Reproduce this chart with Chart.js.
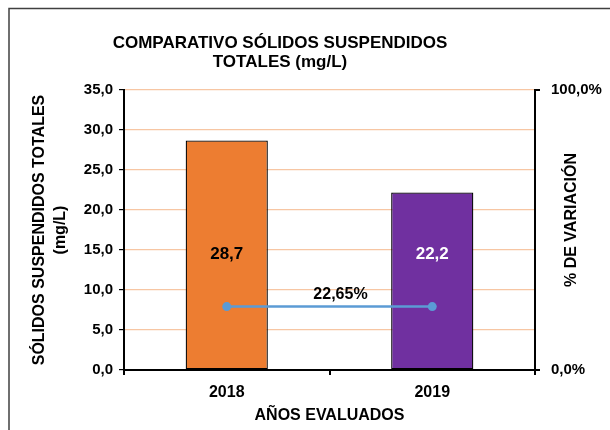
<!DOCTYPE html>
<html>
<head>
<meta charset="utf-8">
<script src="https://cdn.jsdelivr.net/npm/chart.js@4.4.1/dist/chart.umd.min.js"></script>
<style>
    body { margin: 0; background: #fff; }
    #wrap { width: 610px; height: 430px; }
</style>
</head>
<body>
<div id="wrap"><canvas id="chart"></canvas></div>
<script>
const YEARS = ['2018', '2019'];
const SST_VALUES = [28.7, 22.2];
const VARIATION = [22.65, 22.65];
const VARIATION_LABEL = '22,65%';
const TITLE_LINES = ['COMPARATIVO SÓLIDOS SUSPENDIDOS', 'TOTALES (mg/L)'];
const RIGHT_TITLE = '% DE VARIACIÓN';

const BAR_COLORS = ['#ed7d31', '#7030a0'];
const BAR_LABEL_COLORS = ['#000000', '#ffffff'];
const FONT = "'Liberation Sans', Arial, sans-serif";

function comma(v, digits) {
    return Number(v).toFixed(digits).replace('.', ',');
}

const decorations = {
    id: 'decorations',
    afterDraw(chart) {
        const ctx = chart.ctx;
        const y = chart.scales.y;
        const y2 = chart.scales.y2;
        ctx.save();

        // outer frame (only top and left edges visible in the crop)
        ctx.lineWidth = 1.5;
        ctx.strokeStyle = '#404040';
        ctx.beginPath();
        ctx.moveTo(9, 440);
        ctx.lineTo(9, 8.5);
        ctx.lineTo(620, 8.5);
        ctx.stroke();

        ctx.fillStyle = '#000';
        ctx.textAlign = 'center';
        ctx.textBaseline = 'middle';
        ctx.font = `bold 17px ${FONT}`;
        TITLE_LINES.forEach((line, i) => ctx.fillText(line, 280, 43 + i * 19.5));

        // right axis title, reading bottom to top
        ctx.save();
        ctx.translate(572, 220);
        ctx.rotate(-Math.PI / 2);
        ctx.font = `bold 16px ${FONT}`;
        ctx.fillText(RIGHT_TITLE, 0, 0);
        ctx.restore();

        // bar value labels
        ctx.font = `bold 17px ${FONT}`;
        const bars = chart.getDatasetMeta(0).data;
        bars.forEach((bar, i) => {
            ctx.fillStyle = BAR_LABEL_COLORS[i];
            ctx.fillText(comma(SST_VALUES[i], 1), bar.x, y.getPixelForValue(14.5));
        });

        // variation label
        const pts = chart.getDatasetMeta(1).data;
        if (pts.length === 2) {
            ctx.fillStyle = '#000';
            ctx.font = `bold 16px ${FONT}`;
            const mx = (pts[0].x + pts[1].x) / 2 + 11;
            ctx.fillText(VARIATION_LABEL, mx, y2.getPixelForValue(VARIATION[0]) - 12);
        }
        ctx.restore();
    }
};

new Chart(document.getElementById('chart').getContext('2d'), {
    data: {
        labels: YEARS,
        datasets: [{
            type: 'bar',
            data: SST_VALUES,
            backgroundColor: BAR_COLORS,
            borderColor: '#000',
            borderWidth: 1.3,
            borderSkipped: false,
            categoryPercentage: 1,
            barPercentage: 0.4,
            yAxisID: 'y',
            order: 2
        }, {
            type: 'line',
            data: VARIATION,
            borderColor: '#5b9bd5',
            backgroundColor: '#5b9bd5',
            borderWidth: 2.5,
            pointRadius: 4.5,
            pointBorderWidth: 0,
            yAxisID: 'y2',
            order: 1
        }]
    },
    options: {
        responsive: true,
        maintainAspectRatio: false,
        animation: false,
        layout: { padding: { top: 90, left: 0, right: 0, bottom: 0 } },
        plugins: {
            legend: { display: false },
            tooltip: { enabled: false },
            title: { display: false }
        },
        scales: {
            x: {
                offset: true,
                grid: { offset: true, drawOnChartArea: false, color: '#000', tickColor: '#000', tickLength: 5, lineWidth: 2 },
                border: { color: '#000', width: 2 },
                ticks: { color: '#000', font: { family: FONT, size: 16, weight: 'bold' }, padding: 8 },
                title: {
                    display: true,
                    text: 'AÑOS EVALUADOS',
                    color: '#000',
                    font: { family: FONT, size: 16, weight: 'bold', lineHeight: 1.2 },
                    padding: { top: 0, bottom: 5 }
                },
                afterFit(scale) { scale.height = 60; }
            },
            y: {
                position: 'left',
                min: 0,
                max: 35,
                ticks: {
                    stepSize: 5,
                    color: '#000',
                    font: { family: FONT, size: 15, weight: 'bold' },
                    padding: 6,
                    callback: (v) => comma(v, 1)
                },
                grid: { color: '#f7c6a3', lineWidth: 1.2, tickColor: '#000', tickLength: 5 },
                border: { color: '#000', width: 2 },
                title: {
                    display: true,
                    text: ['SÓLIDOS SUSPENDIDOS TOTALES', '(mg/L)'],
                    color: '#000',
                    font: { family: FONT, size: 16, weight: 'bold', lineHeight: 1.3 },
                    padding: { top: 29, bottom: 0 }
                },
                afterFit(scale) { scale.width = 124; }
            },
            y2: {
                position: 'right',
                min: 0,
                max: 100,
                ticks: {
                    stepSize: 100,
                    color: '#000',
                    font: { family: FONT, size: 15, weight: 'bold' },
                    padding: 11,
                    callback: (v) => comma(v, 1) + '%'
                },
                grid: { drawOnChartArea: false, color: '#000', tickColor: '#000', tickLength: 5, lineWidth: 2 },
                border: { color: '#000', width: 2 },
                title: { display: false },
                afterFit(scale) { scale.width = 75; }
            }
        }
    },
    plugins: [decorations]
});
</script>
</body>
</html>
